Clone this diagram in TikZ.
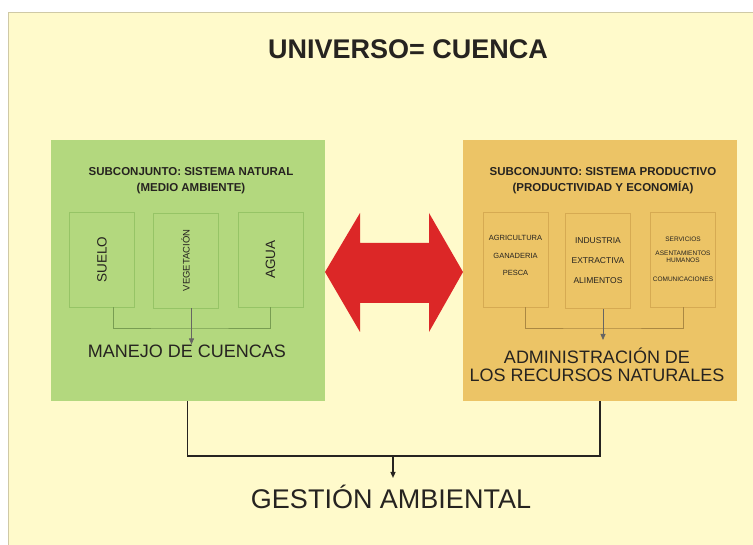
\documentclass[tikz,border=0pt]{standalone}
\usepackage{fontspec}
\setmainfont{Liberation Sans}
\usetikzlibrary{arrows.meta}

\definecolor{paper}{HTML}{FFFACB}
\definecolor{paperedge}{HTML}{CFC9A6}
\definecolor{natgreen}{HTML}{B3D87E}
\definecolor{natline}{HTML}{96C466}
\definecolor{prodorange}{HTML}{ECC466}
\definecolor{prodline}{HTML}{D6AA52}
\definecolor{bigred}{HTML}{DC2727}
\definecolor{ink}{HTML}{262320}

\begin{document}
\begin{tikzpicture}[x=1pt,y=-1pt,
  subset/.style={minimum width=274pt,minimum height=261pt,inner sep=0pt},
  part/.style={draw,line width=0.6pt,minimum width=65pt,minimum height=95pt,inner sep=0pt,align=center,text=ink},
  vpart/.style={part,rotate=90,minimum width=95pt,minimum height=65pt},
  heading/.style={font=\bfseries\fontsize{11.5}{16}\selectfont,align=center,text=ink},
  big/.style={font=\fontsize{18}{18}\selectfont,align=center,text=ink,inner sep=0pt},
  link/.style={line width=0.8pt},
  tip/.style={-{Triangle[length=6pt,width=5pt]}}]

  \useasboundingbox (0,0) rectangle (753,545);
  \fill[white] (0,0) rectangle (753,545);
  \fill[paper] (8,13) rectangle (753,545);
  \draw[paperedge,line width=1pt] (8,545) -- (8,13) -- (753,13);

  \node[font=\bfseries\fontsize{27}{30}\selectfont,text=ink] (title) at (408,49) {UNIVERSO= CUENCA};

  % subconjuntos
  \node[subset,fill=natgreen] (natural) at (187.5,270.5) {};
  \node[subset,fill=prodorange] (productivo) at (600,270.5) {};

  \node[heading] (natTitle) at (191,181) {SUBCONJUNTO: SISTEMA NATURAL\\(MEDIO AMBIENTE)};
  \node[heading] (prodTitle) at (603,181) {SUBCONJUNTO: SISTEMA PRODUCTIVO\\(PRODUCTIVIDAD Y ECONOM\'IA)};

  \node[vpart,draw=natline,font=\fontsize{13.5}{15}\selectfont] (suelo) at (102,259.5) {SUELO};
  \node[vpart,draw=natline,font=\fontsize{9.5}{11}\selectfont] (vegetacion) at (185.5,260.5) {VEGETACI\'ON};
  \node[vpart,draw=natline,font=\fontsize{13.5}{15}\selectfont] (agua) at (270.5,259.5) {AGUA};

  \node[part,draw=prodline,font=\fontsize{7.5}{17.5}\selectfont] (agricultura) at (515.5,259.5) {AGRICULTURA\\GANADERIA\\PESCA\rule[-8pt]{0pt}{8pt}};
  \node[part,draw=prodline,font=\fontsize{8.5}{20}\selectfont] (industria) at (598,261) {INDUSTRIA\\EXTRACTIVA\\ALIMENTOS};
  \node[part,draw=prodline,font=\fontsize{6.5}{7}\selectfont] (servicios) at (683,259.5) {SERVICIOS\\[7pt]ASENTAMIENTOS\\HUMANOS\\[12pt]COMUNICACIONES};

  \node[big] (manejo) at (187,351) {MANEJO DE CUENCAS};
  \node[big] (administracion) at (597,365) {ADMINISTRACI\'ON DE\\LOS RECURSOS NATURALES};
  \node[font=\fontsize{27}{30}\selectfont,text=ink,inner sep=0pt] (gestion) at (391,497) {GESTI\'ON AMBIENTAL};

  % conectores
  \draw[link,natline!80!black] ([xshift=11pt]suelo.west) |- (natural.center |- 0,328) -| (agua.west);
  \draw[link,ink!70,tip] ([xshift=6pt]vegetacion.west) -- ([xshift=6pt]vegetacion.west |- manejo.north);
  \draw[link,prodline!80!black] ([xshift=10pt]agricultura.south) |- (productivo.center |- 0,328) -| (servicios.south);
  \draw[link,ink!70,tip] ([xshift=5pt]industria.south) -- ([xshift=5pt]industria.south |- 0,340);

  \coordinate (union) at (393,456);
  \draw[ink,line width=1.3pt] (natural.south) |- (union) -| (productivo.south);
  \draw[ink,line width=1.3pt,tip,shorten >=7pt] (union) -- (union |- gestion.north);

  % doble flecha
  \fill[bigred] (325,272) -- (360,213) -- (360,243) -- (429,243) -- (429,213) -- (463,272)
    -- (429,332) -- (429,303) -- (360,303) -- (360,332) -- cycle;
\end{tikzpicture}
\end{document}
